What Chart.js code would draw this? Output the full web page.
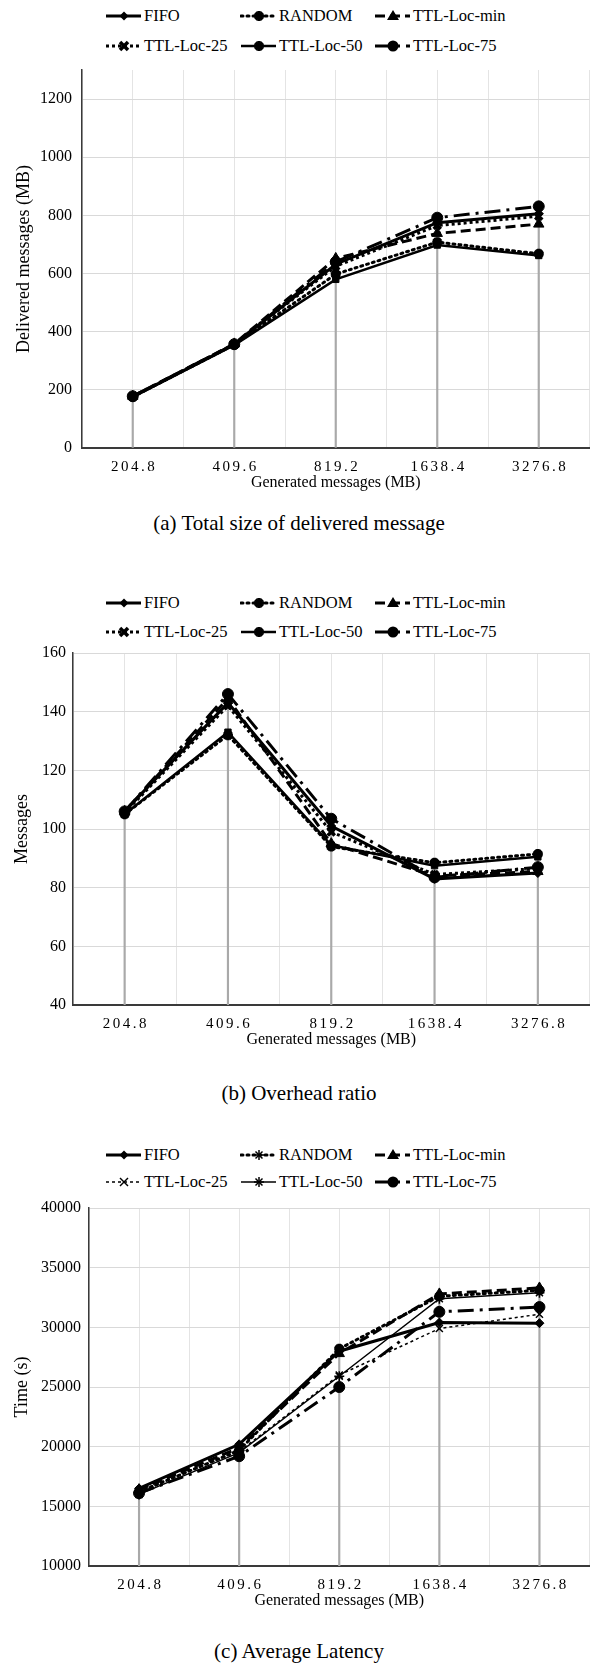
<!DOCTYPE html>
<html><head><meta charset="utf-8">
<script src="https://cdn.jsdelivr.net/npm/chart.js@4.4.1/dist/chart.umd.min.js"></script>
<style>
html,body{margin:0;padding:0;background:#fff;}
body{width:598px;height:1664px;position:relative;overflow:hidden;font-family:'Liberation Serif','Times New Roman',serif;color:#000;}
.cv{position:absolute;left:0;width:598px;}
.item{position:absolute;height:20px;display:flex;align-items:center;font-size:16.5px;white-space:nowrap;font-family:'Liberation Serif','Times New Roman',serif;}
.item svg{margin-right:2px;flex:none;}
.cap{position:absolute;left:0;width:598px;text-align:center;font-size:21px;line-height:26px;}
</style></head><body>
<div class="cv" style="top:60px;height:450px"><canvas id="c1"></canvas></div>
<div class="cv" style="top:643px;height:424px"><canvas id="c2"></canvas></div>
<div class="cv" style="top:1198px;height:430px"><canvas id="c3"></canvas></div>
<div id="legends"></div>
<div class="cap" style="top:510px">(a) Total size of delivered message</div>
<div class="cap" style="top:1080px">(b) Overhead ratio</div>
<div class="cap" style="top:1638px">(c) Average Latency</div>
<script>
// ---------- DATA ----------
const categories = ['204.8', '409.6', '819.2', '1638.4', '3276.8'];
const seriesNames = ['FIFO', 'RANDOM', 'TTL-Loc-min', 'TTL-Loc-25', 'TTL-Loc-50', 'TTL-Loc-75'];

// (a) Total size of delivered message (MB)
const deliveredFIFO   = [177, 356, 632, 775, 806];
const deliveredRANDOM = [176, 355, 598, 708, 668];
const deliveredMin    = [178, 358, 652, 738, 770];
const delivered25     = [177, 357, 625, 765, 797];
const delivered50     = [175, 354, 580, 698, 662];
const delivered75     = [178, 357, 640, 792, 831];
const deliveredTicks  = [0, 200, 400, 600, 800, 1000, 1200];

// (b) Overhead ratio
const overheadFIFO   = [106, 143, 101, 83, 85];
const overheadRANDOM = [105, 132, 94, 88.5, 91.5];
const overheadMin    = [106, 144.5, 95, 84, 85.5];
const overhead25     = [105.5, 142, 99, 84.5, 86.5];
const overhead50     = [105, 133, 94.5, 87.5, 90.5];
const overhead75     = [106, 146, 103.5, 83.5, 87];
const overheadTicks  = [40, 60, 80, 100, 120, 140, 160];

// (c) Average Latency (s)
const latencyFIFO   = [16500, 20200, 28000, 30400, 30350];
const latencyRANDOM = [16200, 19700, 28200, 32600, 33100];
const latencyMin    = [16400, 19900, 27800, 32800, 33300];
const latency25     = [16300, 19600, 26000, 29900, 31100];
const latency50     = [16000, 19500, 25900, 32400, 32900];
const latency75     = [16100, 19200, 25000, 31300, 31700];
const latencyTicks  = [10000, 15000, 20000, 25000, 30000, 35000, 40000];

// ---------- STYLES ----------
const FONT = "'Liberation Serif', 'Times New Roman', serif";
function styleSet(thin){
  return [
    {dash:[], w:3, cap:'butt', pt:'rectRot', r:4.5, pbw:1},
    {dash:[2,4], w:3, cap:'round', pt:'star', r:5, pbw:3.5},
    {dash:[10,5], w:3, cap:'butt', pt:'triangle', r:6, pbw:1},
    {dash:[3,3], w:thin?1.5:3, cap:'butt', pt:'crossRot', r:5, pbw:thin?1.5:3.5},
    {dash:[], w:thin?1.5:2.5, cap:'butt', pt:thin?'star':'rect', r:thin?5:4.5, pbw:thin?1.5:1},
    {dash:[16,6,3,6], w:3, cap:'butt', pt:'circle', r:5.5, pbw:1}
  ];
}

const xLabelPlugin = {
  id: 'xlabels',
  afterDraw(chart){
    const s = chart.scales.x, ctx = chart.ctx;
    ctx.save();
    ctx.font = "15px " + FONT;
    if ('letterSpacing' in ctx) ctx.letterSpacing = '2.5px';
    ctx.fillStyle = '#000';
    ctx.textAlign = 'center';
    ctx.textBaseline = 'middle';
    categories.forEach((c, i) => ctx.fillText(c, s.getPixelForTick(i) + 1.25, s.top + 19.5));
    if ('letterSpacing' in ctx) ctx.letterSpacing = '0px';
    ctx.restore();
  }
};

function zeroPad(s){ s.paddingTop = 0; s.paddingBottom = 0; s.paddingLeft = 0; s.paddingRight = 0; }

function makeChart(id, series, ticks, yMax, yTitle, opts){
  const st = styleSet(opts.thin);
  const drop = categories.map((_, i) => Math.max(...series.map(s => s[i])));
  const datasets = series.map((data, k) => ({
    type: 'line', label: seriesNames[k], data,
    xAxisID: 'x', yAxisID: 'y',
    borderColor: '#000', backgroundColor: '#000',
    borderWidth: st[k].w, borderDash: st[k].dash, borderCapStyle: st[k].cap,
    pointStyle: st[k].pt, pointRadius: st[k].r, pointBorderWidth: st[k].pbw,
    pointBackgroundColor: '#000', pointBorderColor: '#000',
    tension: 0, fill: false, order: (k === 4 && !opts.thin) ? 0 : 1
  }));
  datasets.push({
    type: 'bar', label: 'drop', data: drop, xAxisID: 'x', yAxisID: 'y',
    backgroundColor: '#a9a9a9', barThickness: 1.5, grouped: false, order: 50
  });
  return new Chart(document.getElementById(id), {
    data: { labels: categories, datasets },
    plugins: [xLabelPlugin],
    options: {
      responsive: true, maintainAspectRatio: false, animation: false,
      layout: { padding: { top: opts.padTop, left: 0, right: 0, bottom: 0 } },
      plugins: { legend: { display: false }, tooltip: { enabled: false } },
      scales: {
        xg: {
          type: 'linear', position: 'top', min: -0.5, max: categories.length - 0.5,
          ticks: { display: false, stepSize: 0.5 },
          grid: { color: '#e4e4e4', lineWidth: 1, drawTicks: false },
          border: { display: false },
          afterFit: s => { s.height = 0; zeroPad(s); }
        },
        x: {
          type: 'category', position: 'bottom', offset: true,
          grid: { display: false, drawTicks: false },
          border: { display: true, color: '#3a3a3a', width: 2 },
          ticks: { display: false },
          title: { display: true, text: 'Generated messages (MB)', color: '#000',
                   font: { family: FONT, size: 16 }, padding: { top: 0, bottom: 17.5 } },
          afterFit: s => { s.height = 62; zeroPad(s); }
        },
        y: {
          type: 'linear', position: 'left', min: ticks[0], max: yMax,
          afterBuildTicks: s => { s.ticks = ticks.map(v => ({ value: v })); },
          grid: { color: '#d9d9d9', lineWidth: 1, drawTicks: false },
          border: { display: true, color: '#3a3a3a', width: 1.5 },
          ticks: { color: '#000', font: { family: FONT, size: 16 }, padding: opts.tickPad,
                   callback: v => String(v) },
          title: { display: true, text: yTitle, color: '#000',
                   font: { family: FONT, size: 18 }, padding: { top: opts.titlePad, bottom: 0 } },
          afterFit: s => { s.width = opts.yWidth; zeroPad(s); }
        }
      }
    }
  });
}

makeChart('c1', [deliveredFIFO, deliveredRANDOM, deliveredMin, delivered25, delivered50, delivered75],
  deliveredTicks, 1300, 'Delivered messages (MB)', { padTop: 10, yWidth: 82, tickPad: 10, titlePad: 13, thin: false });
makeChart('c2', [overheadFIFO, overheadRANDOM, overheadMin, overhead25, overhead50, overhead75],
  overheadTicks, 160, 'Messages', { padTop: 10, yWidth: 73, tickPad: 7, titlePad: 11, thin: false });
makeChart('c3', [latencyFIFO, latencyRANDOM, latencyMin, latency25, latency50, latency75],
  latencyTicks, 40000, 'Time (s)', { padTop: 10, yWidth: 89, tickPad: 8, titlePad: 11, thin: true });

// ---------- HTML LEGENDS ----------
function markerSvg(pt, thin){
  const sw = thin ? 1.5 : 3.5;
  switch(pt){
    case 'rectRot': return '<polygon points="19,2.5 23.5,7 19,11.5 14.5,7" fill="#000"/>';
    case 'triangle': return '<polygon points="19,1 25,11 13,11" fill="#000"/>';
    case 'circle': return '<circle cx="19" cy="7" r="5.5" fill="#000"/>';
    case 'rect':
    case 'star': return `<g stroke="#000" stroke-width="${sw}"><line x1="19" y1="2" x2="19" y2="12"/><line x1="14" y1="7" x2="24" y2="7"/><line x1="15.5" y1="3.5" x2="22.5" y2="10.5"/><line x1="22.5" y1="3.5" x2="15.5" y2="10.5"/></g>`;
    case 'crossRot': return `<g stroke="#000" stroke-width="${sw}"><line x1="15" y1="3" x2="23" y2="11"/><line x1="23" y1="3" x2="15" y2="11"/></g>`;
  }
  return '';
}
function buildLegend(rowYs, thin){
  const st = styleSet(thin);
  const colX = [105, 240, 374];
  let html = '';
  seriesNames.forEach((name, k) => {
    const row = Math.floor(k / 3), col = k % 3;
    const s = st[k];
    const dash = s.dash.length ? `stroke-dasharray="${s.dash.join(' ')}"` : '';
    const svg = `<svg width="37" height="14" viewBox="0 0 37 14"><line x1="1" y1="7" x2="36" y2="7" stroke="#000" stroke-width="${s.w}" stroke-linecap="${s.cap}" ${dash}/>${markerSvg(s.pt, thin)}</svg>`;
    html += `<div class="item" style="left:${colX[col]}px;top:${rowYs[row] - 10}px">${svg}<span>${name}</span></div>`;
  });
  return html;
}
document.getElementById('legends').innerHTML =
  buildLegend([16, 46], false) + buildLegend([603, 632], false) + buildLegend([1155, 1182], true);
</script>
</body></html>
